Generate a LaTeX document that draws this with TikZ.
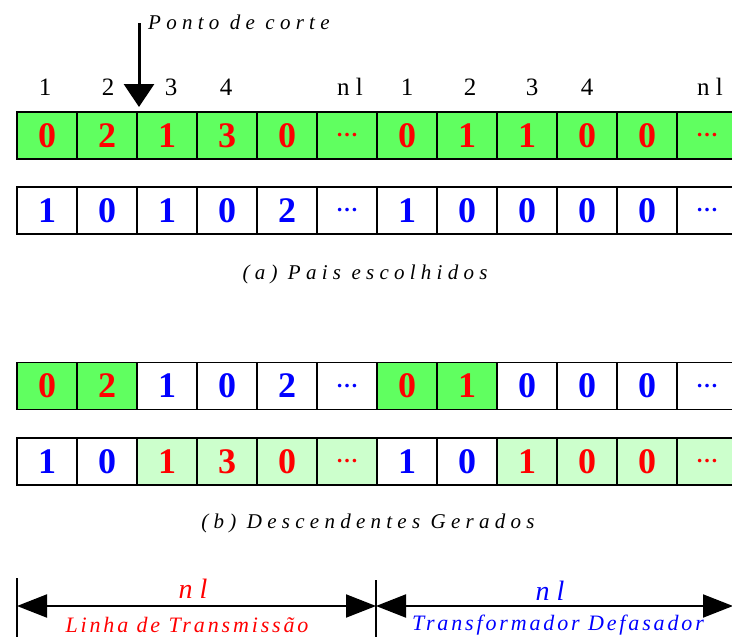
\documentclass[tikz,border=0pt]{standalone}
\usepackage{fontspec}
\setmainfont{Liberation Serif}
\newfontfamily\spfont[LetterSpace=25]{Liberation Serif}
\newfontfamily\sptight[LetterSpace=13]{Liberation Serif}
\usetikzlibrary{arrows.meta}
\definecolor{dg}{RGB}{96,255,96}
\definecolor{lg}{RGB}{204,255,204}
\definecolor{rd}{RGB}{255,0,0}
\definecolor{bl}{RGB}{0,0,255}
\newcommand\dotsx{{\fontsize{22}{22}\selectfont …}}
\begin{document}
\begin{tikzpicture}[x=1pt,y=-1pt,
  cell/.style={draw=black, line width=1.5pt, minimum width=60pt, minimum height=47pt,
    inner sep=0pt, font=\fontsize{36}{36}\selectfont\bfseries},
  lbl/.style={anchor=base, inner sep=0pt, font=\fontsize{25}{25}\selectfont\spfont},
  captxt/.style={anchor=base, inner sep=0pt, font=\fontsize{21}{21}\selectfont\spfont\itshape},
  bigtxt/.style={anchor=base, inner sep=0pt, font=\fontsize{28}{28}\selectfont\spfont\itshape},
  subtxt/.style={anchor=base, inner sep=0pt, font=\fontsize{22}{22}\selectfont\sptight\itshape},
  dimline/.style={line width=2pt, {Triangle[length=30pt,width=23pt]}-{Triangle[length=30pt,width=23pt]}},
  barline/.style={line width=2pt}]
\useasboundingbox (0,0) rectangle (732,637);
\clip (0,0) rectangle (732,637);
% row 1
\foreach \i/\v in {1/0,2/2,3/1,4/3,5/0,6/\dotsx,7/0,8/1,9/1,10/0,11/0,12/\dotsx}
  \node[cell,fill=dg,text=rd] (a\i) at ({47+60*(\i-1)},135.5) {\v};
% row 2
\foreach \i/\v in {1/1,2/0,3/1,4/0,5/2,6/\dotsx,7/1,8/0,9/0,10/0,11/0,12/\dotsx}
  \node[cell,fill=white,text=bl] (b\i) at ({47+60*(\i-1)},210.5) {\v};
% row 3
\foreach \i/\v/\f/\c in {1/0/dg/rd,2/2/dg/rd,3/1/white/bl,4/0/white/bl,5/2/white/bl,6/\dotsx/white/bl,
  7/0/dg/rd,8/1/dg/rd,9/0/white/bl,10/0/white/bl,11/0/white/bl,12/\dotsx/white/bl}
  \node[cell,fill=\f,text=\c] (c\i) at ({47+60*(\i-1)},386) {\v};
% row 4
\foreach \i/\v/\f/\c in {1/1/white/bl,2/0/white/bl,3/1/lg/rd,4/3/lg/rd,5/0/lg/rd,6/\dotsx/lg/rd,
  7/1/white/bl,8/0/white/bl,9/1/lg/rd,10/0/lg/rd,11/0/lg/rd,12/\dotsx/lg/rd}
  \node[cell,fill=\f,text=\c] (d\i) at ({47+60*(\i-1)},461.5) {\v};
% position labels
\foreach \i/\x/\t in {1/45/1,2/108/2,3/171/3,4/226/4,6/350/nl,7/407/1,8/470/2,9/532/3,10/587/4,12/710/nl}
  \node[lbl] (l\i) at (\x,95) {\t};
% cut point
\node[captxt, anchor=base west] (ponto) at (148,30) {Ponto de corte};
\coordinate (cuttop) at (139,23);
\coordinate (cuttip) at (139,107);
\draw[line width=3pt, -{Triangle[length=23pt,width=30pt]}] (cuttop) -- (cuttip);
% captions
\node[captxt] (capa) at (365,279) {(a) Pais escolhidos};
\node[captxt] (capb) at (368,528) {(b) Descendentes Gerados};
% bottom dimension
\coordinate (L) at (17,606);
\coordinate (M) at (376,606);
\coordinate (R) at (733,606);
\coordinate (Ltop) at (17,578);
\coordinate (Lbot) at (17,640);
\coordinate (Mtop) at (376,580);
\coordinate (Mbot) at (376,640);
\draw[barline] (Ltop) -- (Lbot);
\draw[barline] (Mtop) -- (Mbot);
\draw[dimline] (L) -- (M);
\draw[dimline] (M) -- (R);
\node[bigtxt, text=rd] (nl1) at (193,598) {nl};
\node[bigtxt, text=bl] (nl2) at (550,600) {nl};
\node[subtxt, text=rd] (lt) at (187,632) {Linha de Transmissão};
\node[subtxt, text=bl] (td) at (558,630) {Transformador Defasador};
\end{tikzpicture}
\end{document}
